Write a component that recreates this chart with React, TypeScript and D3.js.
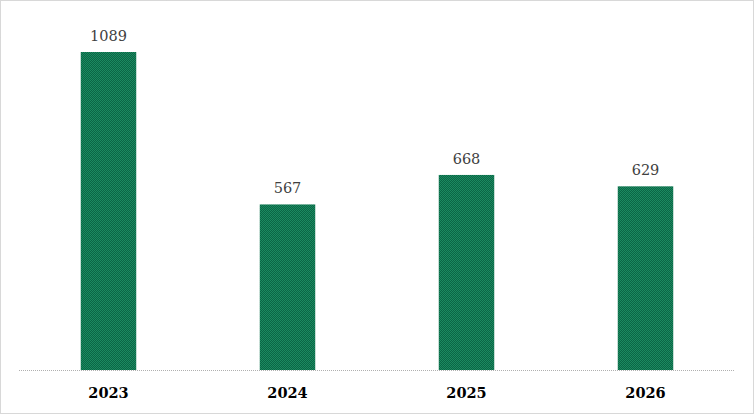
import React from "react";
import * as d3 from "d3";

const years = ["2023", "2024", "2025", "2026"];
const values = [1089, 567, 668, 629];

const W = 754;
const H = 414;
const margin = { left: 19, right: 19, top: 20, bottom: 44 };

export default function App() {
  const x = d3
    .scaleBand<string>()
    .domain(years)
    .range([margin.left, W - margin.right])
    .paddingInner(0.69)
    .paddingOuter(0.345);
  const y = d3
    .scaleLinear()
    .domain([0, 1200])
    .range([H - margin.bottom, H - margin.bottom - 1200 * 0.292]);
  const base = y(0);

  return (
    <svg
      width={W}
      height={H}
      style={{ position: "absolute", left: 0, top: 0, background: "#fff" }}
    >
      <defs>
        <pattern id="chk" width="2" height="2" patternUnits="userSpaceOnUse">
          <rect width="2" height="2" fill="#0b6545" />
          <rect width="1" height="1" fill="#1b8a60" />
          <rect x="1" y="1" width="1" height="1" fill="#1b8a60" />
        </pattern>
      </defs>
      <rect
        x={0.5}
        y={0.5}
        width={W - 1}
        height={H - 1}
        fill="none"
        stroke="#b0b0b0"
        strokeDasharray="1 1"
      />
      {years.map((yr, i) => (
        <g key={yr}>
          <rect
            x={x(yr)}
            y={y(values[i])}
            width={x.bandwidth()}
            height={base - y(values[i])}
            fill="url(#chk)"
          />
          <text
            x={(x(yr) as number) + x.bandwidth() / 2}
            y={y(values[i]) - 11}
            textAnchor="middle"
            fontFamily="DejaVu Serif"
            fontSize={14.5}
            fill="#404040"
          >
            {values[i]}
          </text>
          <text
            x={(x(yr) as number) + x.bandwidth() / 2}
            y={base + 28}
            textAnchor="middle"
            fontFamily="DejaVu Serif"
            fontWeight="bold"
            fontSize={14.5}
            fill="#000"
          >
            {yr}
          </text>
        </g>
      ))}
      <line
        x1={margin.left}
        x2={W - margin.right}
        y1={base + 0.5}
        y2={base + 0.5}
        stroke="#b0b0b0"
        strokeDasharray="1 1"
      />
    </svg>
  );
}
